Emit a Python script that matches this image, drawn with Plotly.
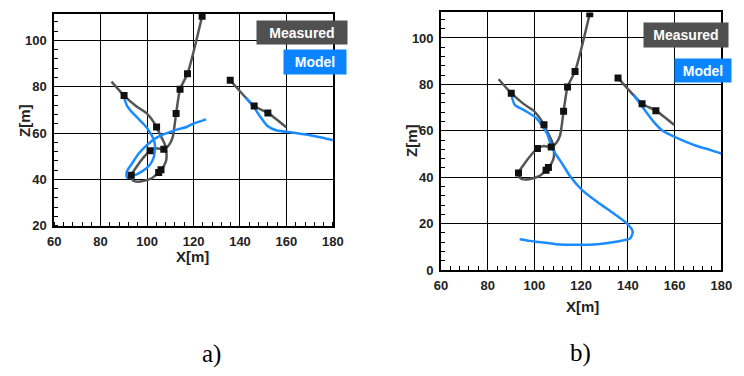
import plotly.graph_objects as go

# ---------------- data ----------------
# Measured trajectory 1 (line path)
meas1_x = [84.7, 90.1, 95.5, 99.5, 102.0, 104.1, 105.8, 107.5, 108.3, 108.3, 107.3, 106.0, 105.0,
           102.0, 99.0, 96.0, 94.0, 93.2, 95.5, 98.5, 101.3, 104.0, 107.2, 109.5, 111.0, 112.5,
           114.2, 117.4, 120.0, 123.7]
meas1_z = [82.2, 76.2, 71.5, 68.8, 66.0, 62.6, 59.0, 55.5, 52.0, 48.5, 46.0, 44.2, 43.0,
           40.5, 39.5, 39.0, 39.5, 41.8, 45.5, 49.5, 52.4, 53.5, 53.0, 55.0, 58.0, 68.4,
           78.9, 85.6, 95.0, 110.4]
# Measured trajectory 2 (line path)
meas2_x = [135.8, 146.1, 152.0, 159.9]
meas2_z = [82.8, 71.7, 68.7, 62.5]
# Measured sample points (markers)
samp_x = [90.1, 104.1, 107.2, 101.3, 106.0, 105.0, 93.2, 112.5, 114.2, 117.4, 123.7, 135.8, 146.1, 152.0]
samp_z = [76.2, 62.6, 53.0, 52.4, 44.2, 43.0, 41.8, 68.4, 78.9, 85.6, 110.4, 82.8, 71.7, 68.7]

# Model a) segment 1 and 2
modA1_x = [90.1, 91.5, 93.0, 95.7, 98.5, 100.5, 102.0, 103.0, 103.4, 103.0, 101.3, 99.9, 97.8,
           95.7, 93.6, 91.5, 91.2, 91.3, 93.6, 96.4, 99.9, 103.4, 106.5, 109.7, 113.9, 116.7,
           119.5, 125.4]
modA1_z = [75.2, 71.5, 69.6, 66.8, 63.9, 61.5, 59.0, 56.8, 54.8, 49.9, 46.4, 45.0, 43.5,
           42.3, 41.4, 40.7, 41.4, 43.5, 47.0, 51.2, 54.8, 57.6, 59.2, 60.4, 61.8, 62.5,
           63.9, 65.9]
modA2_x = [142.6, 146.1, 148.9, 151.7, 155.9, 161.5, 168.5, 175.5, 180.0]
modA2_z = [75.2, 71.0, 66.8, 63.2, 61.1, 60.4, 59.4, 58.0, 56.9]

# Model b) segment 1 and 2
modB1_x = [90.2, 91.6, 96.5, 100.7, 103.4, 105.5, 106.9, 109.0, 111.8, 115.3, 120.1, 127.1,
           134.1, 139.6, 142.1, 141.0, 135.5, 127.1, 118.7, 109.0, 102.0, 97.9, 93.7]
modB1_z = [75.2, 71.2, 68.4, 65.6, 62.1, 58.6, 54.4, 50.2, 46.0, 40.4, 34.8, 29.2,
           24.3, 20.1, 16.5, 13.7, 12.3, 11.2, 10.9, 11.2, 12.1, 12.6, 13.3]
modB2_x = [142.4, 146.6, 150.8, 154.9, 160.5, 168.9, 175.8, 180.0]
modB2_z = [75.5, 69.8, 64.2, 60.0, 57.2, 53.7, 51.6, 50.2]

x_ticks = [60, 80, 100, 120, 140, 160, 180]
zA_ticks = [20, 40, 60, 80, 100]
zB_ticks = [0, 20, 40, 60, 80, 100]

# ---------------- style ----------------
GREY = "#555555"
BLUE = "#1a8cff"
W, H = 744, 376
SANS = "Liberation Sans, Arial, sans-serif"
SERIF = "Liberation Serif, Times New Roman, serif"

fig = go.Figure()

def add_panel(xa, ya, mod1, mod2):
    for mx, mz in [(meas1_x, meas1_z), (meas2_x, meas2_z)]:
        fig.add_trace(go.Scatter(x=mx, y=mz, mode="lines", xaxis=xa, yaxis=ya,
                                 line=dict(color=GREY, width=2.5, shape="spline", smoothing=0.6),
                                 showlegend=False))
    for mx, mz in [mod1, mod2]:
        fig.add_trace(go.Scatter(x=mx, y=mz, mode="lines", xaxis=xa, yaxis=ya,
                                 line=dict(color=BLUE, width=2.5, shape="spline", smoothing=0.6),
                                 showlegend=False))
    fig.add_trace(go.Scatter(x=samp_x, y=samp_z, mode="markers", xaxis=xa, yaxis=ya,
                             marker=dict(symbol="square", size=7, color="#111111"),
                             showlegend=False))

add_panel("x", "y", (modA1_x, modA1_z), (modA2_x, modA2_z))
add_panel("x2", "y2", (modB1_x, modB1_z), (modB2_x, modB2_z))

def px(v):
    return v / W

def py(v):
    return 1 - v / H

axis_common = dict(showline=True, mirror=True, linecolor="black", linewidth=1.5,
                   showgrid=True, gridcolor="black", gridwidth=1.3, zeroline=False,
                   ticks="", ticklabelstandoff=3,
                   tickfont=dict(family=SANS, size=13, color="#222", weight="bold"),
                   minor=dict(dtick=4, ticks="inside", ticklen=4, tickcolor="black",
                              tickwidth=1, showgrid=False))

fig.update_layout(
    width=W, height=H, margin=dict(l=0, r=0, t=0, b=0),
    paper_bgcolor="white", plot_bgcolor="white",
    xaxis=dict(domain=[px(48.3), px(334)], range=[60, 180], tickvals=x_ticks, anchor="y",
               **axis_common),
    yaxis=dict(domain=[py(230.7), py(14)], range=[20, 111.5], tickvals=zA_ticks, anchor="x",
               **axis_common),
    xaxis2=dict(domain=[px(444.7), px(732)], range=[60, 180], tickvals=x_ticks, anchor="y2",
                **axis_common),
    yaxis2=dict(domain=[py(276), py(12.7)], range=[0, 111], tickvals=zB_ticks, anchor="x2",
                **axis_common),
)

def label(text, cx, cy, size=15, color="#222", angle=0, family=SANS, bold=True):
    fig.add_annotation(text=text, x=px(cx), y=py(cy), xref="paper", yref="paper",
                       showarrow=False, textangle=angle, xanchor="center", yanchor="middle",
                       font=dict(family=family, size=size, color=color,
                                 weight="bold" if bold else "normal"))

def badge(text, cx, cy, w, h, bg):
    fig.add_annotation(text=text, x=px(cx), y=py(cy), xref="paper", yref="paper",
                       showarrow=False, xanchor="center", yanchor="middle",
                       width=w, height=h, bgcolor=bg, borderpad=0,
                       font=dict(family=SANS, size=14, color="white", weight="bold"))

# legend badges
badge("Measured", 302, 33, 90, 23, "#505050")
badge("Model", 316, 63, 62, 24, "#0a84ff")
badge("Measured", 696, 35.5, 84, 24, "#505050")
badge("Model", 713, 71.7, 56, 23, "#0a84ff")

# axis titles
label("X[m]", 190, 262)
label("Z[m]", 18, 123, angle=-90)
label("X[m]", 590, 313)
label("Z[m]", 415, 143, angle=-90)

# panel labels
label("a)", 210, 362, size=25, color="black", family=SERIF, bold=False)
label("b)", 588, 361, size=25, color="black", family=SERIF, bold=False)

fig.write_html("out.html")
